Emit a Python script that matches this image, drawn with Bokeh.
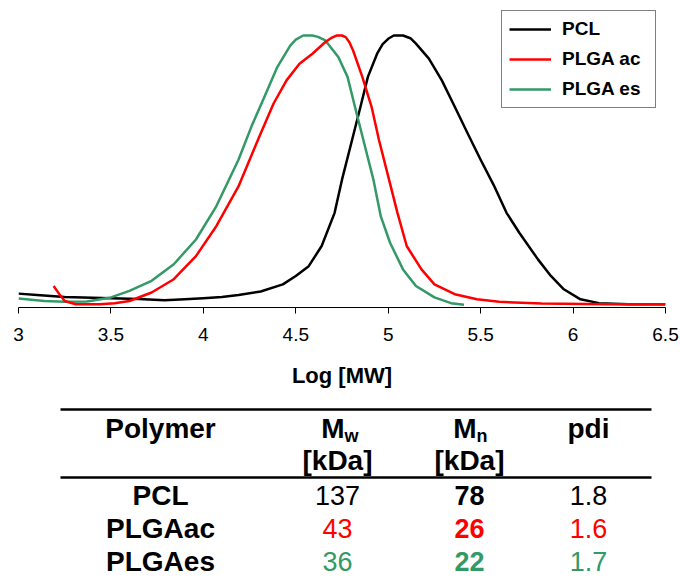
from bokeh.plotting import figure
from bokeh.models import Range1d, Legend, LegendItem, FixedTicker, NumeralTickFormatter
from bokeh.layouts import column
from bokeh.core.properties import value
from bokeh.embed import file_html
from bokeh.resources import INLINE

# ---------------- data ----------------
x_ticks = [3, 3.5, 4, 4.5, 5, 5.5, 6, 6.5]

pcl_x = [3.0, 3.1, 3.25, 3.4, 3.5, 3.65, 3.79, 3.9, 4.0, 4.1, 4.19, 4.31, 4.43, 4.5,
         4.57, 4.64, 4.71, 4.75, 4.80, 4.85, 4.89, 4.94, 4.97, 5.0, 5.03, 5.08, 5.12,
         5.15, 5.22, 5.29, 5.36, 5.43, 5.5, 5.57, 5.64, 5.71, 5.81, 5.88, 5.95, 6.04,
         6.14, 6.3, 6.5]
pcl_y = [0.051, 0.046, 0.039, 0.036, 0.034, 0.031, 0.027, 0.030, 0.034, 0.039, 0.046,
         0.059, 0.085, 0.116, 0.152, 0.226, 0.348, 0.47, 0.604, 0.738, 0.848, 0.933,
         0.968, 0.988, 1.0, 1.0, 0.99, 0.97, 0.915, 0.835, 0.738, 0.64, 0.543, 0.451,
         0.348, 0.274, 0.177, 0.116, 0.067, 0.030, 0.016, 0.012, 0.012]

ac_x = [3.19, 3.22, 3.25, 3.31, 3.44, 3.52, 3.60, 3.72, 3.84, 3.96, 4.07, 4.19, 4.31,
        4.38, 4.45, 4.52, 4.59, 4.66, 4.69, 4.72, 4.75, 4.77, 4.79, 4.81, 4.86, 4.91,
        4.95, 5.0, 5.05, 5.1, 5.18, 5.25, 5.36, 5.48, 5.6, 5.83, 6.18, 6.5]
ac_y = [0.079, 0.05, 0.024, 0.012, 0.012, 0.016, 0.024, 0.055, 0.104, 0.189, 0.299,
        0.445, 0.64, 0.75, 0.835, 0.896, 0.933, 0.976, 0.99, 1.0, 1.0, 0.994, 0.975,
        0.945, 0.848, 0.738, 0.616, 0.482, 0.348, 0.226, 0.14, 0.085, 0.049, 0.030,
        0.021, 0.015, 0.012, 0.012]

es_x = [3.0, 3.14, 3.25, 3.37, 3.5, 3.6, 3.72, 3.84, 3.96, 4.07, 4.19, 4.26, 4.33, 4.40,
        4.47, 4.50, 4.54, 4.59, 4.62, 4.66, 4.73, 4.78, 4.82, 4.87, 4.92, 4.96, 5.01,
        5.08, 5.15, 5.25, 5.34, 5.41]
es_y = [0.033, 0.024, 0.021, 0.022, 0.037, 0.061, 0.098, 0.159, 0.25, 0.372, 0.543,
        0.665, 0.774, 0.884, 0.963, 0.985, 1.0, 1.0, 0.995, 0.982, 0.921, 0.848, 0.738,
        0.604, 0.47, 0.335, 0.238, 0.14, 0.079, 0.037, 0.016, 0.01]

series_names = ["PCL", "PLGA ac", "PLGA es"]
series_colors = ["black", "#FF0000", "#339966"]

polymers = ["PCL", "PLGAac", "PLGAes"]
mw_kda = [137, 43, 36]
mn_kda = [78, 26, 22]
pdi = [1.8, 1.6, 1.7]

FONT = "Liberation Sans"
LEFT, RIGHT = 18, 15

# ---------------- chart ----------------
p = figure(width=680, height=400, x_range=Range1d(3, 6.5), y_range=Range1d(0, 1.1287),
           output_backend="svg", toolbar_location=None, y_axis_location=None,
           min_border_left=LEFT, min_border_right=RIGHT, min_border_top=0,
           min_border_bottom=93)
p.outline_line_color = None
p.grid.visible = False

r_pcl = p.line(pcl_x, pcl_y, line_color=series_colors[0], line_width=2.5, line_join="round")
r_es = p.line(es_x, es_y, line_color=series_colors[2], line_width=2.5, line_join="round")
r_ac = p.line(ac_x, ac_y, line_color=series_colors[1], line_width=2.5, line_join="round")

ax = p.xaxis[0]
ax.ticker = FixedTicker(ticks=x_ticks)
ax.formatter = NumeralTickFormatter(format="0.[0]")
ax.major_tick_out = 6
ax.major_tick_in = 0
ax.minor_tick_out = 0
ax.minor_tick_in = 0
ax.axis_line_color = "black"
ax.major_tick_line_color = "black"
ax.major_label_text_font = FONT
ax.major_label_text_font_size = "19px"
ax.major_label_text_color = "black"
ax.major_label_standoff = 14
ax.axis_label = "Log [MW]"
ax.axis_label_text_font = FONT
ax.axis_label_text_font_style = "bold"
ax.axis_label_text_font_size = "22px"
ax.axis_label_text_color = "black"
ax.axis_label_standoff = 19

legend = Legend(items=[LegendItem(label=series_names[0], renderers=[r_pcl]),
                       LegendItem(label=series_names[1], renderers=[r_ac]),
                       LegendItem(label=series_names[2], renderers=[r_es])],
                location=(483, 199), margin=0, padding=7, spacing=8,
                label_height=22, glyph_height=22, glyph_width=42, label_standoff=11,
                label_width=86, border_line_color="black", border_line_width=1,
                background_fill_color="white", background_fill_alpha=1.0,
                label_text_font=FONT, label_text_font_style="bold",
                label_text_font_size="19px", label_text_color="black")
p.add_layout(legend)

# ---------------- table ----------------
# frame is aligned with the chart frame by the column layout -> use page x coordinates
t = figure(width=680, height=178, x_range=Range1d(LEFT, 680 - RIGHT),
           y_range=Range1d(578, 400), output_backend="svg", toolbar_location=None,
           x_axis_location=None, y_axis_location=None, min_border=0,
           min_border_left=LEFT, min_border_right=RIGHT)
t.outline_line_color = None
t.grid.visible = False

col_poly, col_mw, col_mn, col_pdi = 160, 337, 469, 588
row_y = [495, 528, 561]
row_colors = series_colors

t.segment(x0=[60, 60], y0=[409, 477], x1=[651, 651], y1=[409, 477],
          line_color="black", line_width=2.5)

bold = dict(text_font=value(FONT), text_font_style="bold", text_font_size="28px",
            text_baseline="middle", text_color="black")
t.text(x=[col_poly, col_pdi], y=[428, 428], text=["Polymer", "pdi"], text_align="center", **bold)
t.text(x=[col_mw + 7, col_mn + 7], y=[428, 428], text=["M", "M"], text_align="right", **bold)
t.text(x=[col_mw + 7, col_mn + 7], y=[435, 435], text=["w", "n"], text_align="left",
       text_font=value(FONT), text_font_style="bold", text_font_size="18px",
       text_baseline="middle", text_color="black")
t.text(x=[col_mw, col_mn], y=[460, 460], text=["[kDa]", "[kDa]"], text_align="center", **bold)

t.text(x=[col_poly] * 3, y=row_y, text=polymers, text_align="center", **bold)
t.text(x=[col_mw] * 3, y=row_y, text=[str(v) for v in mw_kda], text_align="center",
       text_font=value(FONT), text_font_size="27px", text_baseline="middle",
       text_color=row_colors)
t.text(x=[col_mn] * 3, y=row_y, text=[str(v) for v in mn_kda], text_align="center",
       text_font=value(FONT), text_font_style="bold", text_font_size="27px",
       text_baseline="middle", text_color=row_colors)
t.text(x=[col_pdi] * 3, y=row_y, text=[f"{v:.1f}" for v in pdi], text_align="center",
       text_font=value(FONT), text_font_size="27px", text_baseline="middle",
       text_color=row_colors)

layout = column(p, t)
open("out.html", "w").write(file_html(layout, INLINE))
